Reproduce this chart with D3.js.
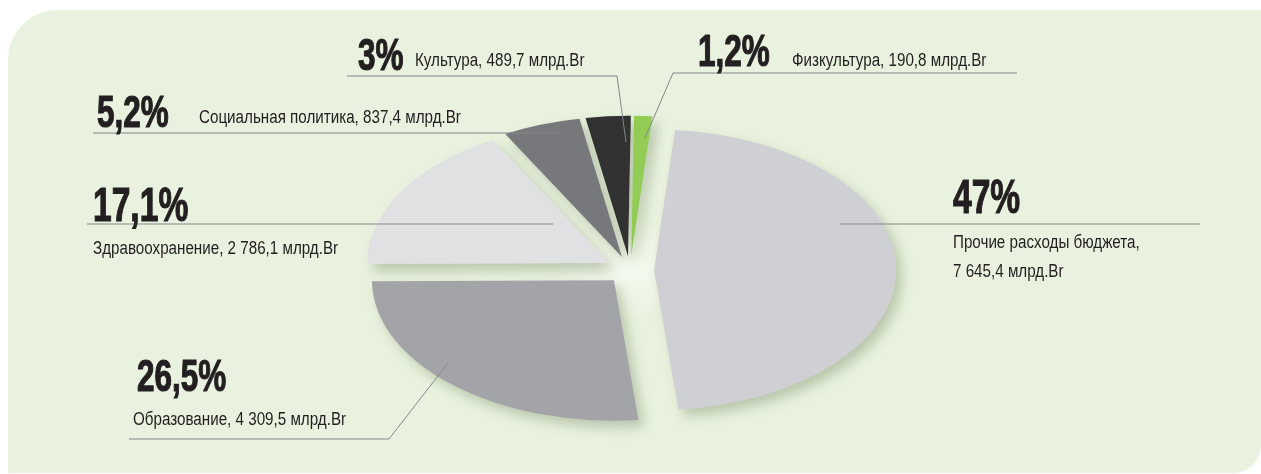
<!DOCTYPE html>
<html>
<head>
<meta charset="utf-8">
<script src="https://cdn.jsdelivr.net/npm/d3@7"></script>
<style>
  html, body { margin: 0; padding: 0; background: #ffffff; }
  svg { display: block; }
</style>
</head>
<body>
<script>
// ---- Data ----
const categories = ["Прочие расходы бюджета", "Образование", "Здравоохранение", "Социальная политика", "Культура", "Физкультура"];
const shares = [47, 26.5, 17.1, 5.2, 3, 1.2];
const amounts = ["7 645,4", "4 309,5", "2 786,1", "837,4", "489,7", "190,8"];
const pctLabels = ["47%", "26,5%", "17,1%", "5,2%", "3%", "1,2%"];
const unit = "млрд.Br";
const colors = ["#cfd0d3", "#a3a4a8", "#e0e1e3", "#77787c", "#323232", "#92cc55"];

const W = 1261, H = 474;
const svg = d3.select("body").append("svg").attr("width", W).attr("height", H);

// panel background
svg.append("path")
  .attr("d", "M8,60 A50,50 0 0 1 58,10 L1261,10 L1261,446 A28,28 0 0 1 1233,473 L8,473 Z")
  .attr("fill", "#e8f2de");

const defs = svg.append("defs");
const f = defs.append("filter").attr("id", "sh").attr("x", "-20%").attr("y", "-20%").attr("width", "140%").attr("height", "150%");
f.append("feDropShadow").attr("dx", 6).attr("dy", 7).attr("stdDeviation", 6)
  .attr("flood-color", "#8d9c7b").attr("flood-opacity", 0.5);
const glow = defs.append("radialGradient").attr("id", "glow");
glow.append("stop").attr("offset", "0%").attr("stop-color", "#f6fbf1").attr("stop-opacity", 0.95);
glow.append("stop").attr("offset", "100%").attr("stop-color", "#f6fbf1").attr("stop-opacity", 0);

// ---- Pie ----
const cx = 630, cy = 270, R = 242, k = 0.58, explode = 24;
const a0 = 5 * Math.PI / 180;
const pie = d3.pie().sort(null).value(d => d).startAngle(a0).endAngle(a0 + 2 * Math.PI);
const arc = d3.arc().innerRadius(0).outerRadius(R);
const arcs = pie(shares);

// soft light glow at the pie centre
svg.append("ellipse").attr("cx", cx).attr("cy", cy).attr("rx", 70).attr("ry", 50)
  .attr("fill", "url(#glow)");

const pieG = svg.append("g").attr("filter", "url(#sh)");
pieG.selectAll("g.slice").data(arcs).join("g")
  .attr("class", "slice")
  .attr("transform", d => {
    const m = (d.startAngle + d.endAngle) / 2;
    const ox = explode * Math.sin(m), oy = -explode * Math.cos(m) * k;
    return `translate(${cx + ox},${cy + oy}) scale(1,${k})`;
  })
  .append("path")
  .attr("d", arc)
  .attr("fill", (d, i) => colors[i]);

// ---- Labels ----
const lineColor = "#85878a";
const font = "'Liberation Sans', Arial, sans-serif";

const layout = [
  { pct: [953, 213, 48], text: [[953, 248, categories[0] + ","], [953, 277, amounts[0] + " " + unit]],
    leader: [[840, 224], [1200, 224]] },
  { pct: [137, 391, 45], text: [[133, 425, categories[1] + ", " + amounts[1] + " " + unit]],
    leader: [[129, 439], [389, 439], [448, 363]] },
  { pct: [93, 221, 48], text: [[93, 254, categories[2] + ", " + amounts[2] + " " + unit]],
    leader: [[87, 224], [553, 224]] },
  { pct: [97, 127, 45], text: [[199, 123, categories[3] + ", " + amounts[3] + " " + unit]],
    leader: [[93, 133], [560, 133]] },
  { pct: [358, 70, 45], text: [[415, 66, categories[4] + ", " + amounts[4] + " " + unit]],
    leader: [[347, 76], [617, 76], [626, 142]] },
  { pct: [698, 66, 45], text: [[792, 66, categories[5] + ", " + amounts[5] + " " + unit]],
    leader: [[1017, 73], [673, 73], [645, 138]] }
];

const lab = svg.append("g");
layout.forEach((L, i) => {
  lab.append("path")
    .attr("d", d3.line()(L.leader))
    .attr("fill", "none").attr("stroke", lineColor).attr("stroke-width", 1);
  lab.append("text")
    .attr("transform", `translate(${L.pct[0]},${L.pct[1]}) scale(0.7,1)`)
    .attr("font-family", font).attr("font-weight", "bold")
    .attr("font-size", L.pct[2]).attr("fill", "#231f20")
    .attr("stroke", "#231f20").attr("stroke-width", 1.2)
    .text(pctLabels[i]);
  L.text.forEach(t => {
    lab.append("text")
      .attr("transform", `translate(${t[0]},${t[1]}) scale(0.8,1)`)
      .attr("font-family", font)
      .attr("font-size", 19).attr("fill", "#231f20")
      .text(t[2]);
  });
});
</script>
</body>
</html>
